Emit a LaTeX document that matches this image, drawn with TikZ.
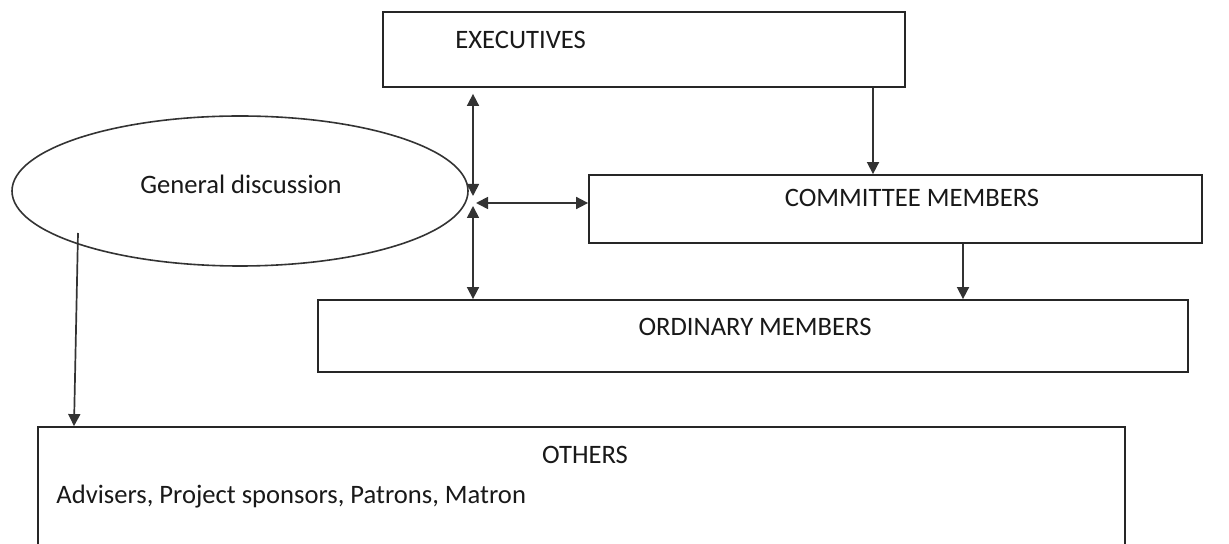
\documentclass[tikz,border=0pt]{standalone}
\usepackage{fontspec}
\setmainfont{Carlito}
\usetikzlibrary{shapes.geometric,fit,arrows.meta}
\tikzset{
  box/.style={draw=black!85, line width=0.9pt, inner sep=0pt},
  lbl/.style={inner sep=0pt, font=\fontsize{13.3}{15}\selectfont, text=black!90},
  conn/.style={draw=black!80, line width=0.85pt, -{Triangle[length=6pt,width=6pt]}},
  bconn/.style={draw=black!80, line width=0.85pt, {Triangle[length=6pt,width=6pt]}-{Triangle[length=6pt,width=6pt]}}
}
\begin{document}
\begin{tikzpicture}[x=0.5pt,y=-0.5pt]
\clip (0,0) rectangle (1229,544);
\fill[white] (0,0) rectangle (1229,544);
% boxes
\node[box, fit={(383,12) (905,87)}] (exec) {};
\node[box, fit={(589,175) (1202,243)}] (comm) {};
\node[box, fit={(318,300) (1188,372)}] (ord) {};
\node[box, fit={(38,427) (1125,580)}] (oth) {};
\node[draw=black!80, line width=0.8pt, ellipse, inner sep=0pt, minimum width=228pt, minimum height=75pt] (gen) at (240,191) {};
% labels
\node[lbl, anchor=west] (exect) at (455,40) {EXECUTIVES};
\node[lbl] (commt) at (912,198) {COMMITTEE MEMBERS};
\node[lbl] (ordt) at (755,327) {ORDINARY MEMBERS};
\node[lbl] (otht) at (585,455) {OTHERS};
\node[lbl, anchor=west] (othd) at (56,497) {Advisers, Project sponsors, Patrons, Matron};
\node[lbl] (gent) at (241,184) {General discussion};
% junction coordinates
\coordinate (j1) at (473,196);
\coordinate (j2) at (473,206);
\coordinate (j3) at (476,203);
\coordinate (ea) at (873,0);
\coordinate (ca) at (963,0);
\coordinate (g0) at (78,233);
\coordinate (g1) at (74,0);
% connectors
\draw[bconn] (j1) -- ([yshift=-3pt]j1 |- exec.south);
\draw[bconn] (j2) -- (j2 |- ord.north);
\draw[bconn] (j3) -- (j3 -| comm.west);
\draw[conn] (exec.south -| ea) -- (comm.north -| ea);
\draw[conn] (comm.south -| ca) -- (ord.north -| ca);
\draw[conn] (g0) -- (g1 |- oth.north);
\end{tikzpicture}
\end{document}
